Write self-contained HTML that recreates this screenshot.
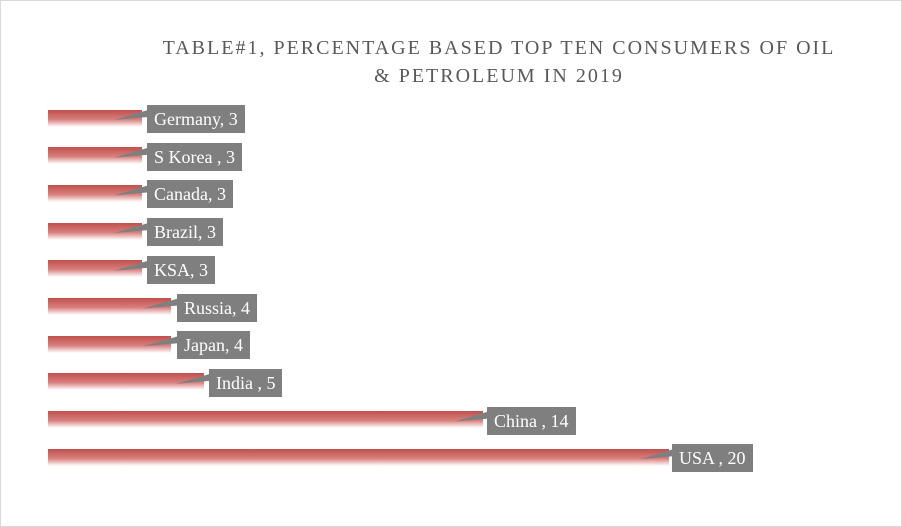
<!DOCTYPE html>
<html><head><style>
body{margin:0;background:#fff;}
#c{position:relative;width:900px;height:525px;border:1px solid #d9d9d9;overflow:hidden;font-family:"Liberation Serif",serif;}
.t{position:absolute;left:0;width:996px;text-align:center;color:#595959;font-size:20px;letter-spacing:2px;text-transform:uppercase;}
.bar{position:absolute;left:47px;height:17px;background:linear-gradient(#c0504d,#d77e7b 55%,#fff);}
.lb{position:absolute;height:28px;background:#7f7f7f;color:#fff;font-size:18px;line-height:28px;padding:0 7px;white-space:nowrap;}
svg{position:absolute;left:0;top:0;}
</style></head><body><div id="c">
<div class="t" style="top:36px;">Table#1, Percentage based top ten consumers of oil</div>
<div class="t" style="top:64px;">&amp; Petroleum in 2019</div>
<div id="b"></div>
<svg width="900" height="525" id="s"></svg>
<div id="l"></div>
</div>
<script>
var d=[["Germany, 3",94,146],["S Korea , 3",94,146],["Canada, 3",94,146],["Brazil, 3",94,146],["KSA, 3",94,146],["Russia, 4",123,176],["Japan, 4",123,176],["India , 5",156,208],["China , 14",435,486],["USA , 20",621,671]];
var h="",s="",l="";
d.forEach(function(r,i){var y=117+i*37.7;
h+='<div class="bar" style="top:'+(y-8.5)+'px;width:'+r[1]+'px"></div>';
var tx=47+r[1]-28;
s+='<polygon points="'+tx+','+(y+2)+' '+(r[2]+1)+','+(y-8)+' '+(r[2]+1)+','+(y-1)+'" fill="#7f7f7f"/>';
l+='<div class="lb" style="left:'+r[2]+'px;top:'+(y-13)+'px">'+r[0]+'</div>';});
document.getElementById("b").innerHTML=h;
document.getElementById("s").innerHTML=s;
document.getElementById("l").innerHTML=l;
</script>
</body></html>
